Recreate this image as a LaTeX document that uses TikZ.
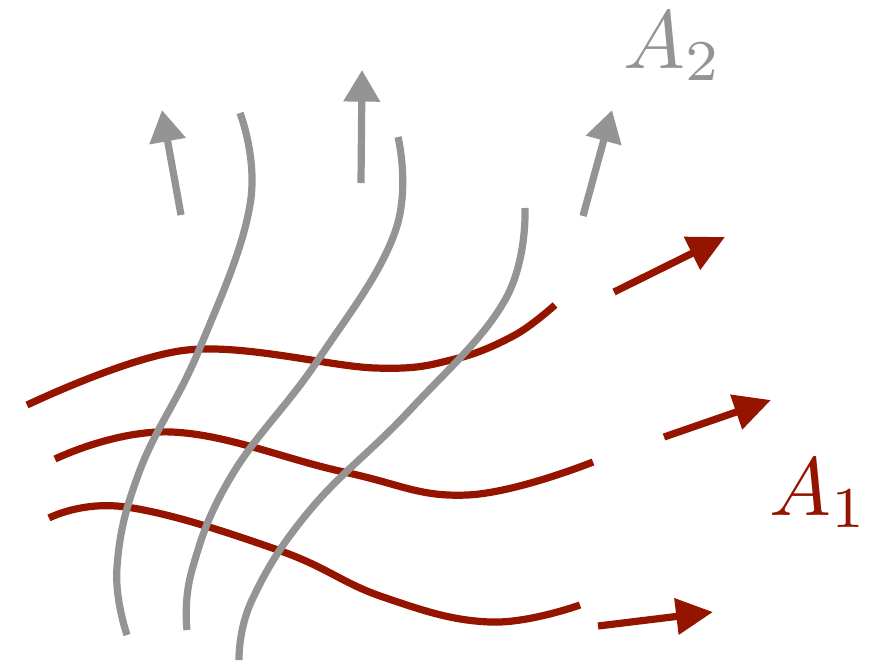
\documentclass[tikz,border=0pt]{standalone}
\usepackage{amsfonts, amssymb, amsmath}
\usepackage{tikz}
\usetikzlibrary{arrows.meta}

\definecolor{fieldred}{RGB}{148,20,0}
\definecolor{fieldgray}{RGB}{148,148,148}

\begin{document}
\begin{tikzpicture}[x=0.02cm, y=-0.02cm,
    redline/.style={fieldred, line width=4.1pt},
    grayline/.style={fieldgray, line width=4.1pt},
    redarrow/.style={redline, -{Triangle[length=21pt, width=20pt]}},
    grayarrow/.style={grayline, -{Triangle[length=18pt, width=20pt]}}]
    \useasboundingbox (0,0) rectangle (881,660);

    % field lines of A_1 (drawn first, they pass under)
    \draw[redline] plot[smooth, tension=0.6] coordinates {(27,405) (187,350) (375,368) (455,359) (515,335) (555,305)};
    \draw[redline] plot[smooth, tension=0.7] coordinates {(55,459) (172,432) (344,472) (467,495) (593,462)};
    \draw[redline] plot[smooth, tension=0.7] coordinates {(49,518) (126,507) (278,550) (383,597) (490,622) (580,605)};

    % field lines of A_2
    \draw[grayline] plot[smooth, tension=0.7] coordinates {(240,113) (250,205) (199,350) (140,470) (117,567) (127,635)};
    \draw[grayline] plot[smooth, tension=0.7] coordinates {(398,137) (395,232) (318,360) (232,475) (192,570) (187,630)};
    \draw[grayline] plot[smooth, tension=0.7] coordinates {(525,208) (505,300) (410,410) (310,510) (252,600) (239,660)};

    % directions
    \coordinate (g1s) at (181,215);  \coordinate (g1t) at (162,110);
    \coordinate (g2s) at (361,183);  \coordinate (g2t) at (362,70);
    \coordinate (g3s) at (583,216);  \coordinate (g3t) at (612,110);
    \draw[grayarrow] (g1s) -- (g1t);
    \draw[grayarrow] (g2s) -- (g2t);
    \draw[grayarrow] (g3s) -- (g3t);

    \coordinate (r1s) at (614,292);  \coordinate (r1t) at (725,237);
    \coordinate (r2s) at (664,437);  \coordinate (r2t) at (771,400);
    \coordinate (r3s) at (598,626);  \coordinate (r3t) at (713,612);
    \draw[redarrow] (r1s) -- (r1t);
    \draw[redarrow] (r2s) -- (r2t);
    \draw[redarrow] (r3s) -- (r3t);

    \node[fieldgray, scale=4.7, anchor=base west, inner sep=0pt] (labtwo) at (622,68) {$A_2$};
    \node[fieldred, scale=4.7, anchor=base west, inner sep=0pt] (labone) at (768,515) {$A_1$};
\end{tikzpicture}
\end{document}
